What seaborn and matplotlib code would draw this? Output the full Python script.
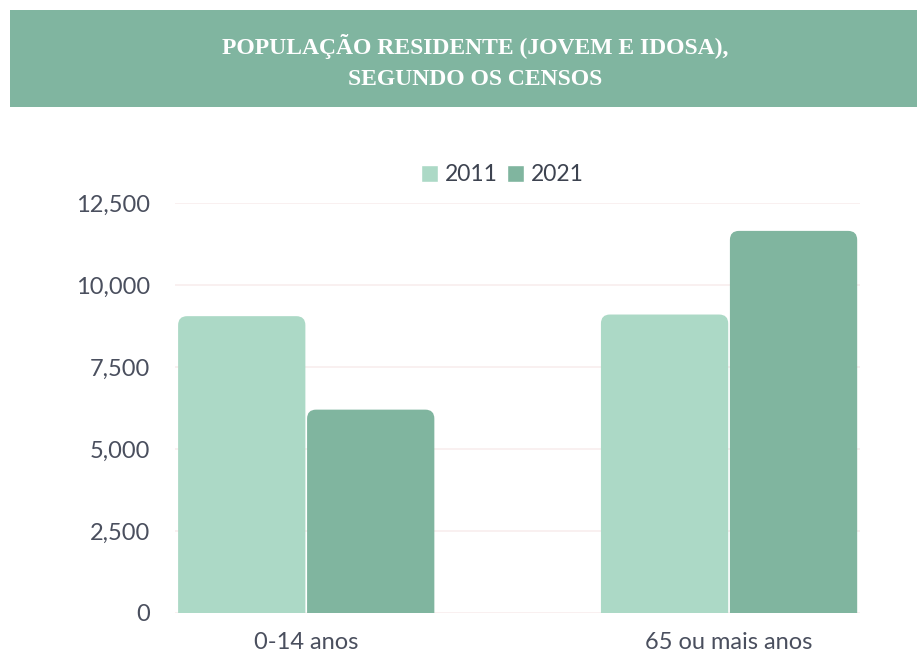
import matplotlib
matplotlib.use("Agg")
import matplotlib.pyplot as plt
from matplotlib.patches import Rectangle, FancyBboxPatch
from matplotlib.ticker import FuncFormatter
import seaborn as sns
import pandas as pd

# dados
faixas = ["0-14 anos", "65 ou mais anos"]
anos = ["2011", "2021"]
pop_2011 = [9050, 9100]
pop_2021 = [6200, 11650]

df = pd.DataFrame({
    "faixa": faixas * 2,
    "ano": [anos[0]] * 2 + [anos[1]] * 2,
    "pop": pop_2011 + pop_2021,
})

COR_CLARA = "#acd9c6"
COR_ESCURA = "#80b59f"
COR_BANNER = "#80b5a0"
COR_TEXTO = "#4a4f5e"

sns.set_theme(style="white")
plt.rcParams["font.family"] = ["Lato", "DejaVu Sans"]

fig = plt.figure(figsize=(9.17, 6.57), dpi=100)
ax = fig.add_axes([0.191, 0.067, 0.747, 0.624])

sns.barplot(data=df, x="faixa", y="pop", hue="ano", order=faixas, hue_order=anos,
            palette=[COR_CLARA, COR_ESCURA], width=0.61, gap=0.0,
            saturation=1, ax=ax, legend=True)

ax.set_xlim(-0.31, 1.31)
ax.set_ylim(0, 12500)
ax.set_yticks([0, 2500, 5000, 7500, 10000, 12500])
ax.yaxis.set_major_formatter(FuncFormatter(lambda v, p: f"{int(v):,}"))
ax.grid(axis="y", color="#f8eded", linewidth=1.2)
ax.set_axisbelow(True)
for s in ax.spines.values():
    s.set_visible(False)
ax.set_xlabel("")
ax.set_ylabel("")
ax.tick_params(axis="both", length=0, labelsize=17, colors=COR_TEXTO)
ax.tick_params(axis="y", pad=18)
ax.tick_params(axis="x", pad=14)

# cantos superiores arredondados
fig.canvas.draw()
inv = ax.transData.inverted()
p0 = inv.transform((0, 0))
p1 = inv.transform((1, 1))
dx_px = p1[0] - p0[0]
dy_px = p1[1] - p0[1]
raio = 9 * dx_px
for bar in list(ax.patches):
    if bar.get_height() <= 0:
        continue
    x, w, h = bar.get_x(), bar.get_width(), bar.get_height()
    extra = 12 * dy_px
    nova = FancyBboxPatch((x + 0.002, -extra), w - 0.004, h + extra,
                          boxstyle=f"round,pad=0,rounding_size={raio}",
                          mutation_aspect=dy_px / dx_px,
                          facecolor=bar.get_facecolor(), edgecolor="none",
                          clip_on=True)
    ax.add_patch(nova)
    bar.set_visible(False)

# legenda
handles, labels = ax.get_legend_handles_labels()
ax.legend(handles, labels, loc="center", bbox_to_anchor=(0.548, 1 - 175 / 657),
          bbox_transform=fig.transFigure, ncol=2, frameon=False,
          handlelength=0.75, handleheight=0.75, handletextpad=0.3,
          columnspacing=0.4, fontsize=16.5, labelcolor="#3d4350")

# faixa do título
fig.patches.append(Rectangle((10 / 917, 1 - 107 / 657), 1 - 10 / 917, 97 / 657,
                             transform=fig.transFigure, facecolor=COR_BANNER,
                             edgecolor="none", zorder=0))
fig.text(475 / 917, 1 - 62 / 657,
         "POPULAÇÃO RESIDENTE (JOVEM E IDOSA),\nSEGUNDO OS CENSOS",
         ha="center", va="center", color="white", fontsize=17,
         fontweight="bold", family=["Liberation Serif", "DejaVu Serif"],
         linespacing=1.6)

fig.savefig("out.png", dpi=100)
